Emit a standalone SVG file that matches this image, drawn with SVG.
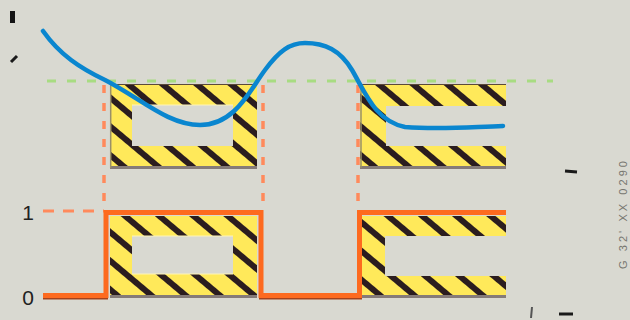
<svg xmlns="http://www.w3.org/2000/svg" width="630" height="320" viewBox="0 0 630 320">
  <defs>
    <pattern id="hatch" patternUnits="userSpaceOnUse" width="22" height="10" patternTransform="rotate(-50)">
      <rect x="0" y="0" width="6" height="10" fill="#2b1d1f"/>
    </pattern>
    <pattern id="hatchB" patternUnits="userSpaceOnUse" x="15" width="22" height="10" patternTransform="rotate(-50)">
      <rect x="0" y="0" width="6" height="10" fill="#2b1d1f"/>
    </pattern>
  </defs>
  <style>
    .blk { fill: #ffe95a; fill-rule: evenodd; }
    .hat { fill-rule: evenodd; }
    .shadow { fill: #857b78; }
    .edge { stroke: #9a9068; stroke-width: 1.5; fill: none; }
    .topedge { stroke: #5a4a3a; stroke-width: 1; fill: none; }
    .hl { stroke: #fff6b8; stroke-width: 1.2; fill: none; }
    .dashO { stroke: #ff8a5c; stroke-width: 3.5; fill: none; stroke-dasharray: 8 10; }
    .dashOh { stroke: #ff8a5c; stroke-width: 3; fill: none; stroke-dasharray: 11 9; }
    .dashG { stroke: #a8dc82; stroke-width: 3; fill: none; stroke-dasharray: 9 11; }
    .step { stroke: #fd6a1f; stroke-width: 5; fill: none; stroke-linejoin: miter; }
    .stepShadow { stroke: #a4421c; stroke-width: 2.5; fill: none; }
    .curve { stroke: #0a86cf; stroke-width: 4.5; fill: none; stroke-linecap: round; }
    .lbl { font-family: "Liberation Sans", Arial, sans-serif; font-size: 21px; fill: #222; text-anchor: middle; }
    .code { font-family: "Liberation Sans", Arial, sans-serif; font-size: 11px; fill: #76766f; }
    .mark { stroke: #1a1a1a; stroke-width: 3; fill: none; }
  </style>
  <rect x="0" y="0" width="630" height="320" fill="#d9d9d1"/>

  <!-- Upper block 1 (closed) -->
  <g id="upper-block-1">
    <path class="blk" d="M110,84 H257 V168 H110 Z M132,105 V146 H233 V105 Z"/>
    <path class="hat" fill="url(#hatchB)" d="M110,84 H257 V168 H110 Z M132,105 V146 H233 V105 Z"/>
    <rect class="shadow" x="110" y="166" width="147" height="3"/>
    <line class="topedge" x1="110" y1="84.5" x2="257" y2="84.5"/>
    <line class="edge" x1="110.7" y1="84" x2="110.7" y2="168"/>
    <line class="hl" x1="132" y1="105" x2="233" y2="105"/>
  </g>

  <!-- Upper block 2 (open right) -->
  <g id="upper-block-2">
    <path class="blk" d="M360,84 H506 V106 H386 V146 H506 V168 H360 Z"/>
    <path class="hat" fill="url(#hatch)" d="M360,84 H506 V106 H386 V146 H506 V168 H360 Z"/>
    <rect class="shadow" x="360" y="166" width="146" height="3"/>
    <line class="topedge" x1="360" y1="84.5" x2="506" y2="84.5"/>
    <line class="edge" x1="361" y1="84" x2="361" y2="168"/>
  </g>

  <!-- Lower block 1 (closed) -->
  <g id="lower-block-1">
    <path class="blk" d="M110,216 H257 V297 H110 Z M132,236 V274 H233 V236 Z"/>
    <path class="hat" fill="url(#hatch)" d="M110,216 H257 V297 H110 Z M132,236 V274 H233 V236 Z"/>
    <rect class="shadow" x="110" y="295" width="147" height="3"/>
    <line class="hl" x1="132" y1="236" x2="233" y2="236"/>
    <line class="hl" x1="132" y1="274" x2="233" y2="274"/>
  </g>

  <!-- Lower block 2 (open right) -->
  <g id="lower-block-2">
    <path class="blk" d="M361,216 H506 V236 H385 V276 H506 V297 H361 Z"/>
    <path class="hat" fill="url(#hatchB)" d="M361,216 H506 V236 H385 V276 H506 V297 H361 Z"/>
    <rect class="shadow" x="361" y="295" width="145" height="3"/>
  </g>

  <g id="connectors">
    <line class="dashG" x1="47" y1="81" x2="553" y2="81"/>
    <line class="dashO" x1="104" y1="85" x2="104" y2="210"/>
    <line class="dashO" x1="263" y1="85" x2="263" y2="205"/>
    <line class="dashO" x1="358" y1="85" x2="358" y2="205"/>
    <line class="dashOh" x1="43" y1="211" x2="104" y2="211"/>
    <path class="stepShadow" d="M43,298.3 H108 M259,298.3 H362"/>
    <path class="step" d="M43,295.5 H106 V212.5 H261 V295.5 H359.5 V212.5 H506"/>
    <path class="curve" d="M43,31 C60,55 80,68 105,80 C140,98 168,125 200,125 C235,125 250,90 265,70 C279,51 290,43 305,43 C325,43 340,50 352,70 C365,92 375,121 405,127 C440,130 470,127 503,126"/>
  </g>

  <g id="labels">
    <text class="lbl" x="28" y="220">1</text>
    <text class="lbl" x="28" y="305">0</text>
    <text class="code" transform="translate(627,269) rotate(-90)" textLength="108" lengthAdjust="spacing">G 32' XX 0290</text>
  </g>

  <g id="marks">
    <rect x="10" y="11" width="5" height="12" fill="#141414"/>
    <line class="mark" x1="11" y1="62" x2="17" y2="56" stroke="#3a3a3a"/>
    <line class="mark" x1="565" y1="171" x2="577" y2="172"/>
    <line class="mark" x1="559" y1="314" x2="573" y2="314"/>
    <line x1="532" y1="307" x2="531" y2="318" stroke="#555" stroke-width="2"/>
  </g>
</svg>
